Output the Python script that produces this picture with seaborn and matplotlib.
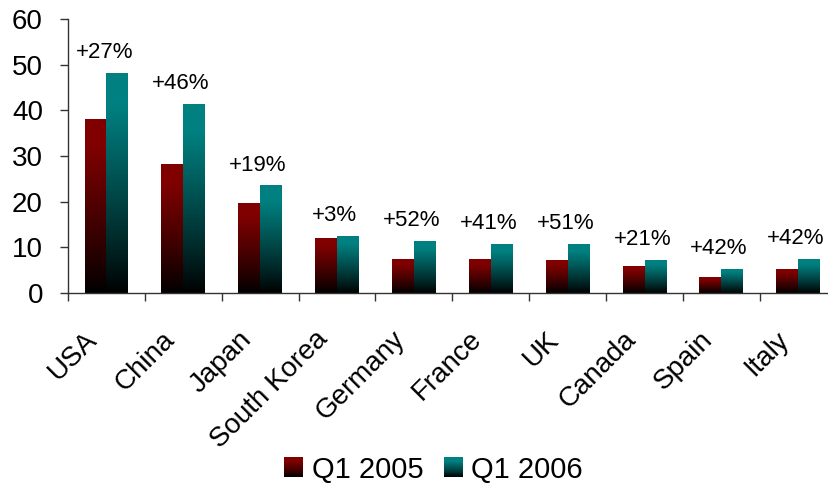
import numpy as np
import pandas as pd
import matplotlib
matplotlib.use("Agg")
import matplotlib.pyplot as plt
import matplotlib.transforms as mtransforms
import seaborn as sns
from matplotlib.patches import Rectangle
from matplotlib.legend_handler import HandlerBase
from matplotlib.colors import to_rgb

countries = ["USA", "China", "Japan", "South Korea", "Germany", "France", "UK",
             "Canada", "Spain", "Italy"]
q1_2005 = [38.1, 28.2, 19.8, 12.1, 7.4, 7.4, 7.2, 5.9, 3.5, 5.3]
q1_2006 = [48.2, 41.4, 23.6, 12.5, 11.4, 10.7, 10.7, 7.2, 5.3, 7.4]
growth_labels = ["+27%", "+46%", "+19%", "+3%", "+52%", "+41%", "+51%",
                 "+21%", "+42%", "+42%"]
series_names = ["Q1 2005", "Q1 2006"]
colors = {"Q1 2005": "#800000", "Q1 2006": "#008080"}

df = pd.DataFrame({
    "country": countries * 2,
    "value": q1_2005 + q1_2006,
    "series": [series_names[0]] * len(countries) + [series_names[1]] * len(countries),
})

sns.set_style("white")
plt.rcParams["font.family"] = ["Liberation Sans", "DejaVu Sans"]
plt.rcParams["text.color"] = "black"

fig = plt.figure(figsize=(8.29, 4.91), dpi=100)
ax = fig.add_axes([68 / 829, 1 - 293 / 491, 1 - 68 / 829, (293 - 19) / 491])

sns.barplot(data=df, x="country", y="value", hue="series", palette=colors,
            width=0.57, gap=0, ax=ax, legend=False, errorbar=None,
            linewidth=0, saturation=1)


def gradient_img(color, n=256):
    c = np.array(to_rgb(color))
    t = np.linspace(0, 1, n)  # 0 bottom -> 1 top
    f = np.clip(t / 0.85, 0, 1) ** 0.9
    rgb = c[None, :] * f[:, None]
    return rgb[:, None, :]


for cont, name in zip(ax.containers, series_names):
    for patch in cont:
        x0, y0 = patch.get_x(), patch.get_y()
        w, h = patch.get_width(), patch.get_height()
        im = ax.imshow(gradient_img(colors[name]), extent=[x0, x0 + w, y0, y0 + h],
                       origin="lower", aspect="auto", zorder=2)
        im.set_clip_path(patch)
        patch.set_facecolor("none")

# growth labels above each pair
for i, lab in enumerate(growth_labels):
    top = max(q1_2005[i], q1_2006[i])
    ax.annotate(lab, xy=(i - 0.03, top), xytext=(0, 7), textcoords="offset points",
                ha="center", va="bottom", fontsize=16, color="black",
                annotation_clip=False)

ax.set_xlim(-0.5, 9.4)
ax.set_ylim(0, 60)
ax.set_yticks([0, 10, 20, 30, 40, 50, 60])
ax.tick_params(axis="y", labelsize=20, length=6, width=1, direction="out",
               color="#333333", labelcolor="black", left=True, pad=12)
ax.set_xticks(range(len(countries)))
ax.set_xticklabels(countries, rotation=45, ha="right", rotation_mode="anchor",
                   fontsize=20)
ax.tick_params(axis="x", length=0, pad=24, labelcolor="black")
shift = mtransforms.ScaledTranslation(-22 / 100, 0, fig.dpi_scale_trans)
for lbl in ax.get_xticklabels():
    lbl.set_transform(lbl.get_transform() + shift)
ax.set_xticks(np.arange(-0.5, 9.5, 1.0), minor=True)
ax.tick_params(axis="x", which="minor", length=6, width=1, color="#333333",
               direction="out", bottom=True)
ax.set_xlabel("")
ax.set_ylabel("")
for s in ["top", "right"]:
    ax.spines[s].set_visible(False)
for s in ["left", "bottom"]:
    ax.spines[s].set_color("#333333")
    ax.spines[s].set_linewidth(1)


class GradientHandler(HandlerBase):
    def __init__(self, color):
        super().__init__()
        self.color = color

    def create_artists(self, legend, orig_handle, xdescent, ydescent, width,
                       height, fontsize, trans):
        c = np.array(to_rgb(self.color))
        n = 20
        arts = []
        for k in range(n):
            f = min(1.0, ((k + 0.5) / n) / 0.85) ** 0.9
            r = Rectangle((-xdescent, -ydescent + height * k / n), width,
                          height / n + 0.3, facecolor=tuple(c * f), edgecolor="none",
                          transform=trans)
            arts.append(r)
        return arts


h1 = Rectangle((0, 0), 1, 1)
h2 = Rectangle((0, 0), 1, 1)
leg = fig.legend([h1, h2], series_names, loc="center", bbox_to_anchor=(0.523, 0.043),
                 ncol=2, frameon=False, fontsize=21, handlelength=0.65,
                 handleheight=0.65, handletextpad=0.3, columnspacing=0.7,
                 handler_map={h1: GradientHandler(colors["Q1 2005"]),
                              h2: GradientHandler(colors["Q1 2006"])})
for t in leg.get_texts():
    t.set_color("black")

fig.savefig("out.png", dpi=100)
